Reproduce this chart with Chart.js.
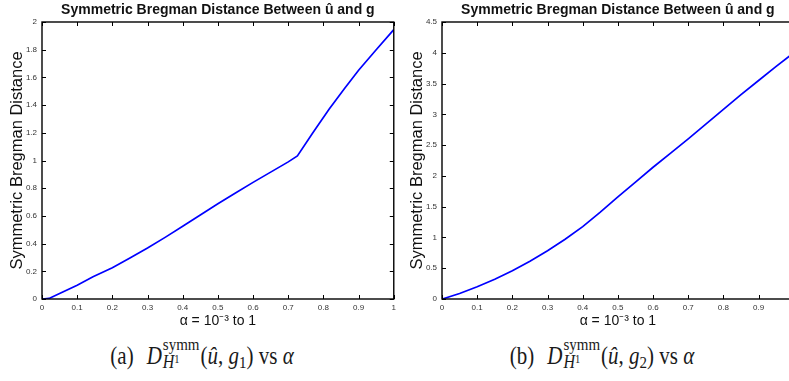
<!DOCTYPE html>
<html>
<head>
<meta charset="utf-8">
<script src="https://cdn.jsdelivr.net/npm/chart.js@4/dist/chart.umd.min.js"></script>
<style>
html,body{margin:0;padding:0;width:789px;height:381px;overflow:hidden;background:#fff;}
.box{position:absolute;top:0;width:400px;height:330px;}
.cap{position:absolute;top:337px;width:400px;height:26px;line-height:26px;text-align:center;font-family:"Liberation Serif","Times New Roman",serif;font-size:21px;color:#1a1a1a;white-space:nowrap;transform:scaleY(1.15);transform-origin:50% 50%;}
.lab{margin-right:13px;}
.ss{display:inline-block;vertical-align:-4px;font-size:15px;text-align:left;margin-left:1px;margin-right:1px;}
.ss span{display:block;line-height:16px;}
.ss i{font-size:16px;}
.ss sup{font-size:10.5px;vertical-align:5px;line-height:0;}
.cap sub{font-size:15px;vertical-align:-4px;line-height:0;}
</style>
</head>
<body>
<div class="box" style="left:0"><canvas id="c1" width="400" height="330"></canvas></div>
<div class="box" style="left:400px"><canvas id="c2" width="400" height="330"></canvas></div>
<div class="cap" style="left:2px"><span class="lab">(a)</span><i>D</i><span class="ss"><span>symm</span><span><i>H</i><sup>1</sup></span></span>(<i>û</i>, <i>g</i><sub>1</sub>) vs <i>α</i></div>
<div class="cap" style="left:402px"><span class="lab">(b)</span><i>D</i><span class="ss"><span>symm</span><span><i>H</i><sup>1</sup></span></span>(<i>û</i>, <i>g</i><sub>2</sub>) vs <i>α</i></div>
<script>
// ---- data ----
const alphaA = [0.001,0.02,0.05,0.1,0.145,0.2,0.25,0.3,0.35,0.4,0.45,0.5,0.55,0.6,0.65,0.7,0.726,0.77,0.816,0.86,0.9,0.95,1.0];
const distA  = [0,0.004,0.04,0.1,0.16,0.225,0.296,0.368,0.445,0.525,0.607,0.688,0.765,0.842,0.916,0.99,1.033,1.2,1.37,1.52,1.652,1.80,1.945];
const alphaB = [0.001,0.05,0.1,0.15,0.2,0.25,0.3,0.35,0.4,0.45,0.5,0.55,0.6,0.65,0.7,0.75,0.8,0.85,0.9,0.95,1.0];
const distB  = [0,0.09,0.2,0.32,0.46,0.615,0.785,0.97,1.175,1.41,1.66,1.9,2.14,2.37,2.6,2.84,3.08,3.32,3.55,3.78,4.0];
const xTicks  = [0,0.1,0.2,0.3,0.4,0.5,0.6,0.7,0.8,0.9,1];
const yTicksA = [0,0.2,0.4,0.6,0.8,1,1.2,1.4,1.6,1.8,2];
const yTicksB = [0,0.5,1,1.5,2,2.5,3,3.5,4,4.5];
const titleText = 'Symmetric Bregman Distance Between û and g';
const yTitle = 'Symmetric Bregman Distance';
const xTitle = 'α = 10⁻³ to 1';

const framePlugin = {
  id: 'frame',
  afterDatasetsDraw(chart) {
    const {ctx, chartArea: {left, right, top, bottom}, scales: {x, y}} = chart;
    ctx.save();
    ctx.strokeStyle = '#000';
    ctx.lineWidth = 1;
    ctx.beginPath();
    x.ticks.forEach(t => {
      const px = Math.round(x.getPixelForValue(t.value)) + 0.5;
      ctx.moveTo(px, bottom); ctx.lineTo(px, bottom - 4);
      ctx.moveTo(px, top); ctx.lineTo(px, top + 4);
    });
    y.ticks.forEach(t => {
      const py = Math.round(y.getPixelForValue(t.value)) + 0.5;
      ctx.moveTo(left, py); ctx.lineTo(left + 4, py);
      ctx.moveTo(right, py); ctx.lineTo(right - 4, py);
    });
    ctx.stroke();
    ctx.lineWidth = 1.4;
    ctx.strokeRect(left, top, right - left, bottom - top);
    ctx.restore();
  }
};

function makeChart(id, xs, ys, yTicks, yMax) {
  const tickFont = {family: 'Liberation Sans, Arial, sans-serif', size: 8};
  new Chart(document.getElementById(id), {
    type: 'line',
    data: {datasets: [{
      data: xs.map((a, i) => ({x: a, y: ys[i]})),
      borderColor: '#0000ff', borderWidth: 1.7, pointRadius: 0, tension: 0, fill: false
    }]},
    options: {
      responsive: false, animation: false, events: [],
      layout: {padding: {left: 0, right: 5, top: 0, bottom: 0}},
      plugins: {
        legend: {display: false}, tooltip: {enabled: false},
        title: {display: true, text: titleText, fullSize: false, color: '#111',
          font: {family: 'Liberation Sans, Arial, sans-serif', size: 14, weight: 'bold', lineHeight: 1},
          padding: {top: 3, bottom: 5}}
      },
      scales: {
        x: {type: 'linear', min: 0, max: 1,
          afterBuildTicks: s => { s.ticks = xTicks.map(v => ({value: v})); },
          afterFit: s => { s.height = 31; },
          grid: {display: false, drawTicks: false},
          border: {display: false},
          ticks: {font: tickFont, color: '#333', padding: 4, maxRotation: 0, autoSkip: false,
            callback: v => String(v)},
          title: {display: true, text: xTitle, color: '#111',
            font: {family: 'Liberation Sans, Arial, sans-serif', size: 14, lineHeight: 1},
            padding: {top: 0, bottom: 2}}
        },
        y: {type: 'linear', min: 0, max: yMax,
          afterBuildTicks: s => { s.ticks = yTicks.map(v => ({value: v})); },
          afterFit: s => { s.width = 42; },
          grid: {display: false, drawTicks: false},
          border: {display: false},
          ticks: {font: tickFont, color: '#333', padding: 5, autoSkip: false,
            callback: v => String(v)},
          title: {display: true, text: yTitle, color: '#111',
            font: {family: 'Liberation Sans, Arial, sans-serif', size: 16.5, lineHeight: 1},
            padding: {top: 9.3, bottom: 0}}
        }
      }
    },
    plugins: [framePlugin]
  });
}
makeChart('c1', alphaA, distA, yTicksA, 2);
makeChart('c2', alphaB, distB, yTicksB, 4.5);
</script>
</body>
</html>
